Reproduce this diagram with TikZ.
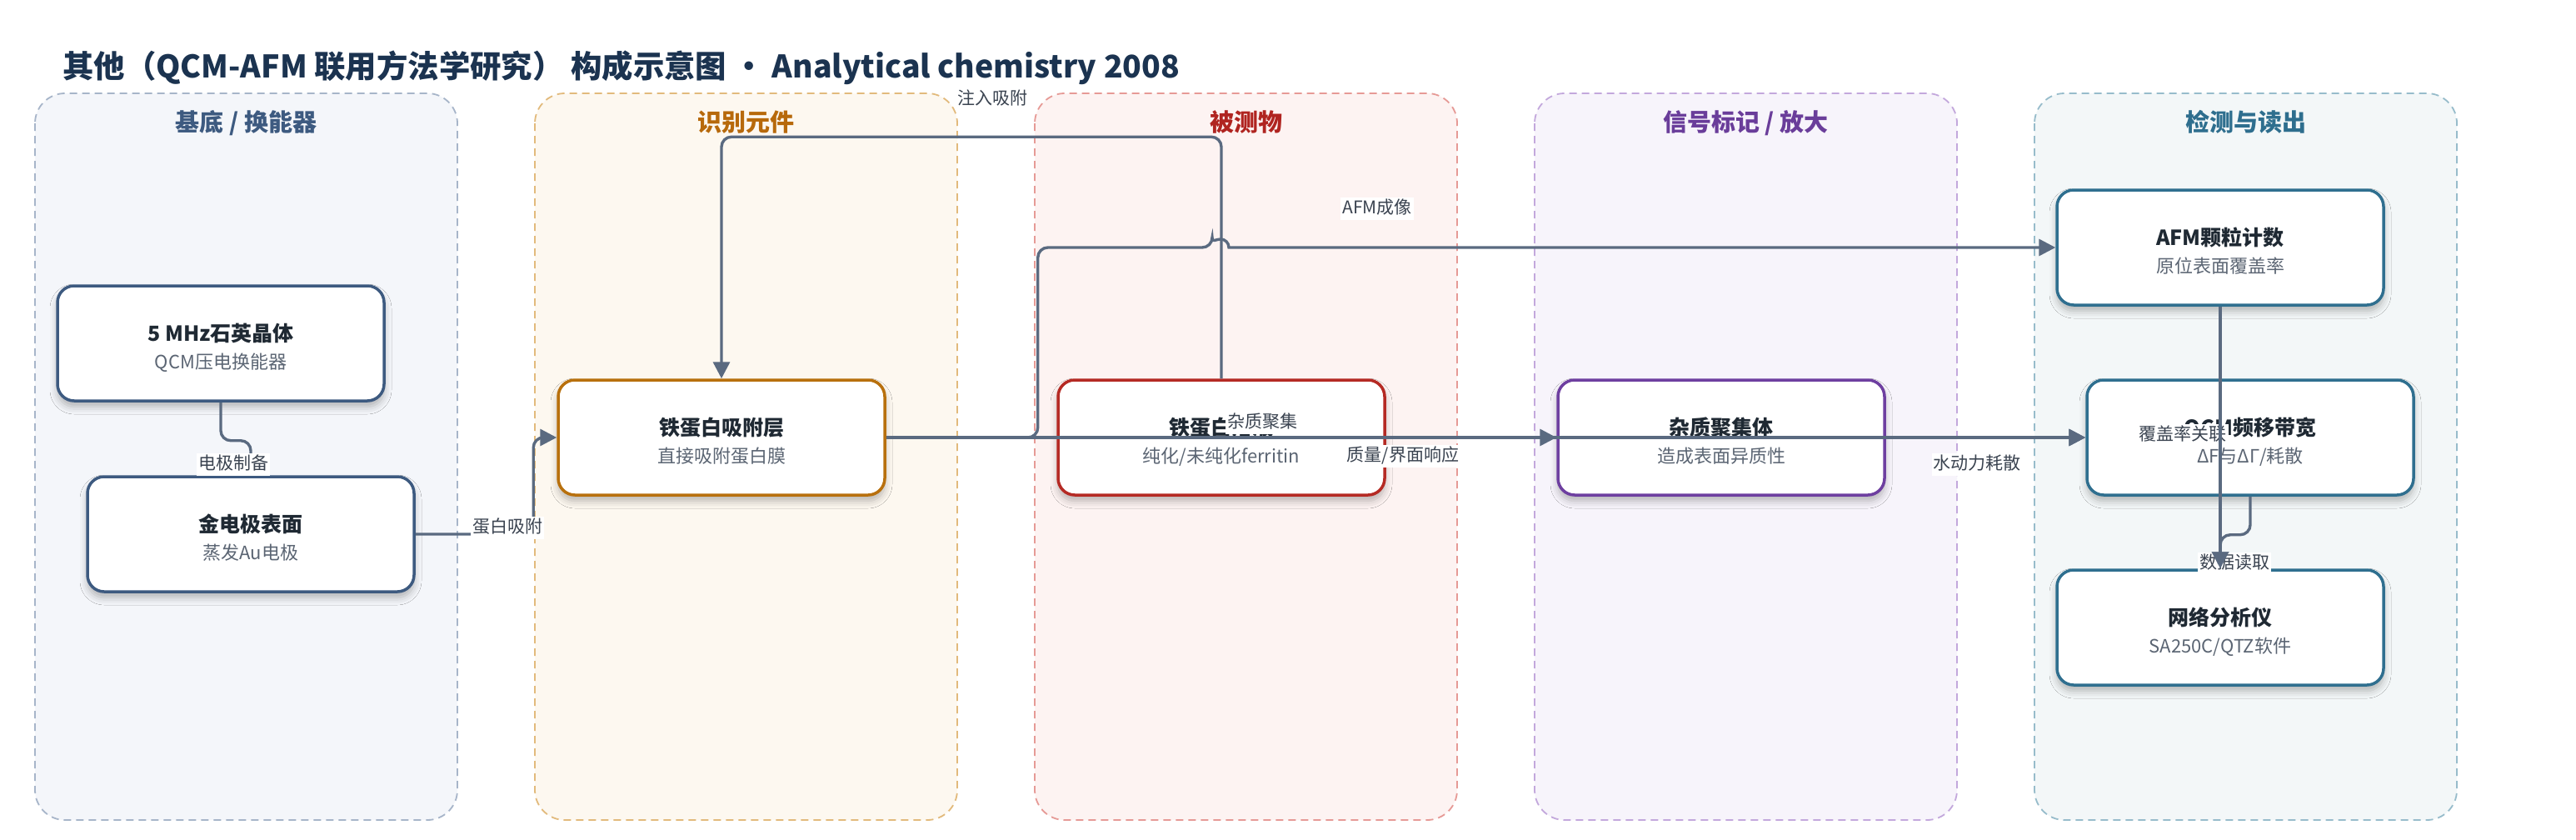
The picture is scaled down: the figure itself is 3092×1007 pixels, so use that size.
\documentclass[tikz,border=0pt]{standalone}
\usepackage{fontspec}
\setmainfont{Noto Sans CJK SC}
\usetikzlibrary{arrows.meta,shadows.blur,calc}
\definecolor{titlec}{HTML}{1B3350}
\definecolor{connc}{HTML}{5A6A80}
\definecolor{btxt}{HTML}{1F2933}
\definecolor{bsub}{HTML}{5B6573}
\definecolor{lblc}{HTML}{3A4350}
\definecolor{laneAfill}{HTML}{F4F6FA}\definecolor{laneAdraw}{HTML}{A7B5C9}\definecolor{laneAtxt}{HTML}{3D5A80}
\definecolor{laneBfill}{HTML}{FDF8F0}\definecolor{laneBdraw}{HTML}{E2BA7C}\definecolor{laneBtxt}{HTML}{B7690B}
\definecolor{laneCfill}{HTML}{FDF3F2}\definecolor{laneCdraw}{HTML}{E69A96}\definecolor{laneCtxt}{HTML}{B02420}
\definecolor{laneDfill}{HTML}{F7F4FB}\definecolor{laneDdraw}{HTML}{C3A8DC}\definecolor{laneDtxt}{HTML}{6A3D9A}
\definecolor{laneEfill}{HTML}{F3F7F8}\definecolor{laneEdraw}{HTML}{97BCCB}\definecolor{laneEtxt}{HTML}{2E6E8E}
\definecolor{boxA}{HTML}{3D5A80}
\definecolor{boxB}{HTML}{B8700D}
\definecolor{boxC}{HTML}{B52A24}
\definecolor{boxD}{HTML}{6E3FA0}
\definecolor{boxE}{HTML}{2F6F8F}
\begin{document}
\begin{tikzpicture}[x=1pt,y=-1pt,
  lanebg/.style 2 args={draw=#1, fill=#2, dash pattern=on 9pt off 6pt, line width=1.8pt, rounded corners=36pt},
  lanetitle/.style={anchor=base, text=#1, font=\fontsize{29}{34}\selectfont\bfseries},
  box/.style={draw=#1, fill=white, line width=3.5pt, rounded corners=20pt, minimum width=392pt, minimum height=138pt,
    blur shadow={shadow xshift=0pt, shadow yshift=-7pt, shadow blur radius=9pt, shadow opacity=28}},
  btitle/.style={anchor=base, text=btxt, font=\fontsize{25}{30}\selectfont\bfseries, inner sep=0pt},
  bsubt/.style={anchor=base, text=bsub, font=\fontsize{22}{26}\selectfont, inner sep=0pt},
  conn/.style={draw=connc, line width=3.4pt, rounded corners=12pt},
  arr/.style={-{Triangle[length=20pt,width=20pt]}},
  elabel/.style={fill=white, text=lblc, font=\fontsize{21}{25}\selectfont, inner xsep=2pt, inner ysep=3pt, text height=17pt, text depth=4pt}
]
\useasboundingbox (0,0) rectangle (3092,1007);
\fill[white] (0,0) rectangle (3092,1007);

% title
\node[anchor=base west, text=titlec, font=\fontsize{37.4}{44}\selectfont\bfseries, inner sep=0pt] (title) at (75,93)
  {其他（QCM-AFM 联用方法学研究） 构成示意图 · Analytical chemistry 2008};

% lanes
\draw[lanebg={laneAdraw}{laneAfill}] (42,112) rectangle (549,984);
\draw[lanebg={laneBdraw}{laneBfill}] (642,112) rectangle (1149,984);
\draw[lanebg={laneCdraw}{laneCfill}] (1242,112) rectangle (1749,984);
\draw[lanebg={laneDdraw}{laneDfill}] (1842,112) rectangle (2349,984);
\draw[lanebg={laneEdraw}{laneEfill}] (2442,112) rectangle (2949,984);
\node[lanetitle=laneAtxt] (l1t) at (295.5,157) {基底 / 换能器};
\node[lanetitle=laneBtxt] (l2t) at (895.5,157) {识别元件};
\node[lanetitle=laneCtxt] (l3t) at (1495.5,157) {被测物};
\node[lanetitle=laneDtxt] (l4t) at (2095.5,157) {信号标记 / 放大};
\node[lanetitle=laneEtxt] (l5t) at (2695.5,157) {检测与读出};

% boxes
\node[box=boxA] (b1) at (265,412) {};
\node[btitle] (b1t) at ($(b1)+(0,-2.5)$) {5 MHz石英晶体};
\node[bsubt] (b1s) at ($(b1)+(0,30)$) {QCM压电换能器};

\node[box=boxA] (b2) at (301,641) {};
\node[btitle] (b2t) at ($(b2)+(0,-2.5)$) {金电极表面};
\node[bsubt] (b2s) at ($(b2)+(0,30)$) {蒸发Au电极};

\node[box=boxB] (b3) at (866,525) {};
\node[btitle] (b3t) at ($(b3)+(0,-2.5)$) {铁蛋白吸附层};
\node[bsubt] (b3s) at ($(b3)+(0,30)$) {直接吸附蛋白膜};

\node[box=boxC] (b4) at (1466,525) {};
\node[btitle] (b4t) at ($(b4)+(0,-2.5)$) {铁蛋白溶液};
\node[bsubt] (b4s) at ($(b4)+(0,30)$) {纯化/未纯化ferritin};

\node[box=boxD] (b5) at (2066,525) {};
\node[btitle] (b5t) at ($(b5)+(0,-2.5)$) {杂质聚集体};
\node[bsubt] (b5s) at ($(b5)+(0,30)$) {造成表面异质性};

\node[box=boxE] (b6) at (2665,297) {};
\node[btitle] (b6t) at ($(b6)+(0,-2.5)$) {AFM颗粒计数};
\node[bsubt] (b6s) at ($(b6)+(0,30)$) {原位表面覆盖率};

\node[box=boxE] (b7) at (2701,525) {};
\node[btitle] (b7t) at ($(b7)+(0,-2.5)$) {QCM频移带宽};
\node[bsubt] (b7s) at ($(b7)+(0,30)$) {ΔF与ΔΓ/耗散};

\node[box=boxE] (b8) at (2665,753) {};
\node[btitle] (b8t) at ($(b8)+(0,-2.5)$) {网络分析仪};
\node[bsubt] (b8s) at ($(b8)+(0,30)$) {SA250C/QTZ软件};

% connectors
\draw[conn,arr] (b1.south) -- ++(0,46) -| (b2.north);
\node[elabel] (e1l) at (280,557) {电极制备};

\draw[conn,arr] (b2.east) -| ([xshift=-28pt]b3.west) -- (b3.west);
\node[elabel] (e2l) at (609,633) {蛋白吸附};

\draw[conn,arr] (b4.north) -- ++(0,-290) -| (b3.north);
\node[elabel] (e3l) at (1191,119) {注入吸附};

\draw[conn,arr] (b3.east) -- ++(182,0) -- ++(0,-228) -- (1455,297) [sharp corners]
  arc[start angle=180, end angle=360, radius=10] -- (b6.west);
\node[elabel] (e4l) at (1653,250) {AFM成像};

\draw[conn,arr] (b3.east) -- (b7.west);
\node[elabel] (e5l) at (1684,547) {质量/界面响应};

\draw[conn,arr] (b4.east) -- (b5.west);
\node[elabel] (e6l) at (1515,507) {杂质聚集};

\draw[conn,arr] (b5.east) -- (b7.west);
\node[elabel] (e7l) at (2373,557) {水动力耗散};

\draw[conn,arr] (b7.south) -- ++(0,46) -| (b8.north);
\node[elabel] (e8l) at (2682,676) {数据读取};

\node[elabel] (e9l) at (2620,522) {覆盖率关联};
\draw[conn,arr] (b6.south) -- (b8.north);

\end{tikzpicture}
\end{document}
